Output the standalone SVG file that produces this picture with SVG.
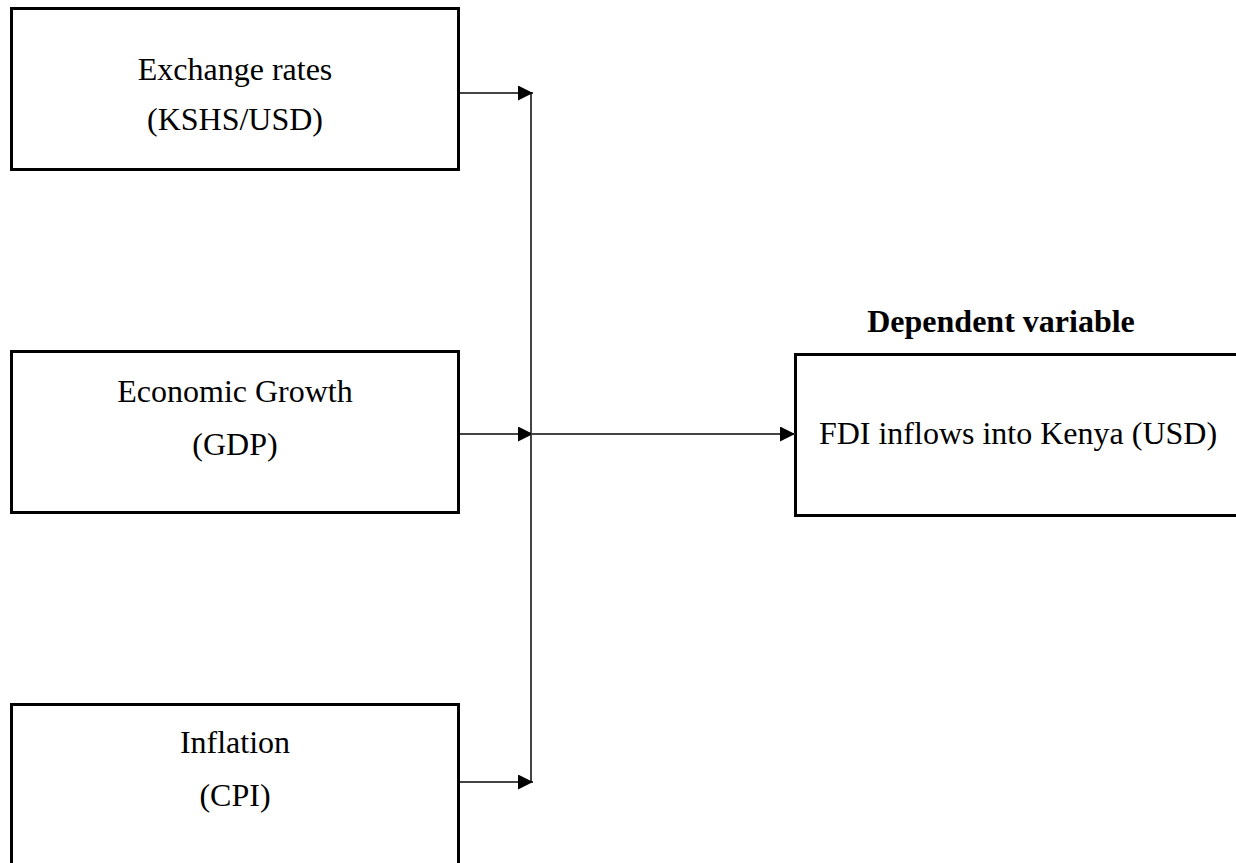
<svg xmlns="http://www.w3.org/2000/svg" width="1236" height="863" viewBox="0 0 1236 863">
<style>
.box{fill:#fff;stroke:#000;stroke-width:3}
.t{font-family:"Liberation Serif","Times New Roman",serif;font-size:32px;fill:#000;text-anchor:middle}
.b{font-weight:bold}
.c{stroke:#444;stroke-width:2;fill:none}
</style>
<defs>
<marker id="ah" markerWidth="15" markerHeight="15" refX="15" refY="7.5" orient="auto" markerUnits="userSpaceOnUse">
<path d="M0,0 L15,7.5 L0,15 Z" fill="#000"/>
</marker>
</defs>
<rect width="1236" height="863" fill="#fff"/>
<g id="node-exchange">
<rect class="box" x="11.5" y="8.5" width="447" height="161"/>
<text class="t" x="235" y="80">Exchange rates</text>
<text class="t" x="235" y="130">(KSHS/USD)</text>
</g>
<g id="node-growth">
<rect class="box" x="11.5" y="351.5" width="447" height="161"/>
<text class="t" x="235" y="402">Economic Growth</text>
<text class="t" x="235" y="455">(GDP)</text>
</g>
<g id="node-inflation">
<rect class="box" x="11.5" y="704.5" width="447" height="170"/>
<text class="t" x="235" y="753">Inflation</text>
<text class="t" x="235" y="806">(CPI)</text>
</g>
<g id="node-fdi">
<text class="t b" x="1001" y="332">Dependent variable</text>
<rect class="box" x="795.5" y="354.5" width="450" height="161"/>
<text class="t" x="1018" y="444">FDI inflows into Kenya (USD)</text>
</g>
<g id="connectors">
<line class="c" x1="531" y1="93" x2="531" y2="782"/>
<line class="c" x1="460" y1="93" x2="533" y2="93" marker-end="url(#ah)"/>
<line class="c" x1="460" y1="434" x2="533" y2="434" marker-end="url(#ah)"/>
<line class="c" x1="460" y1="782" x2="533" y2="782" marker-end="url(#ah)"/>
<line class="c" x1="531" y1="434" x2="795" y2="434" marker-end="url(#ah)"/>
</g>
</svg>
